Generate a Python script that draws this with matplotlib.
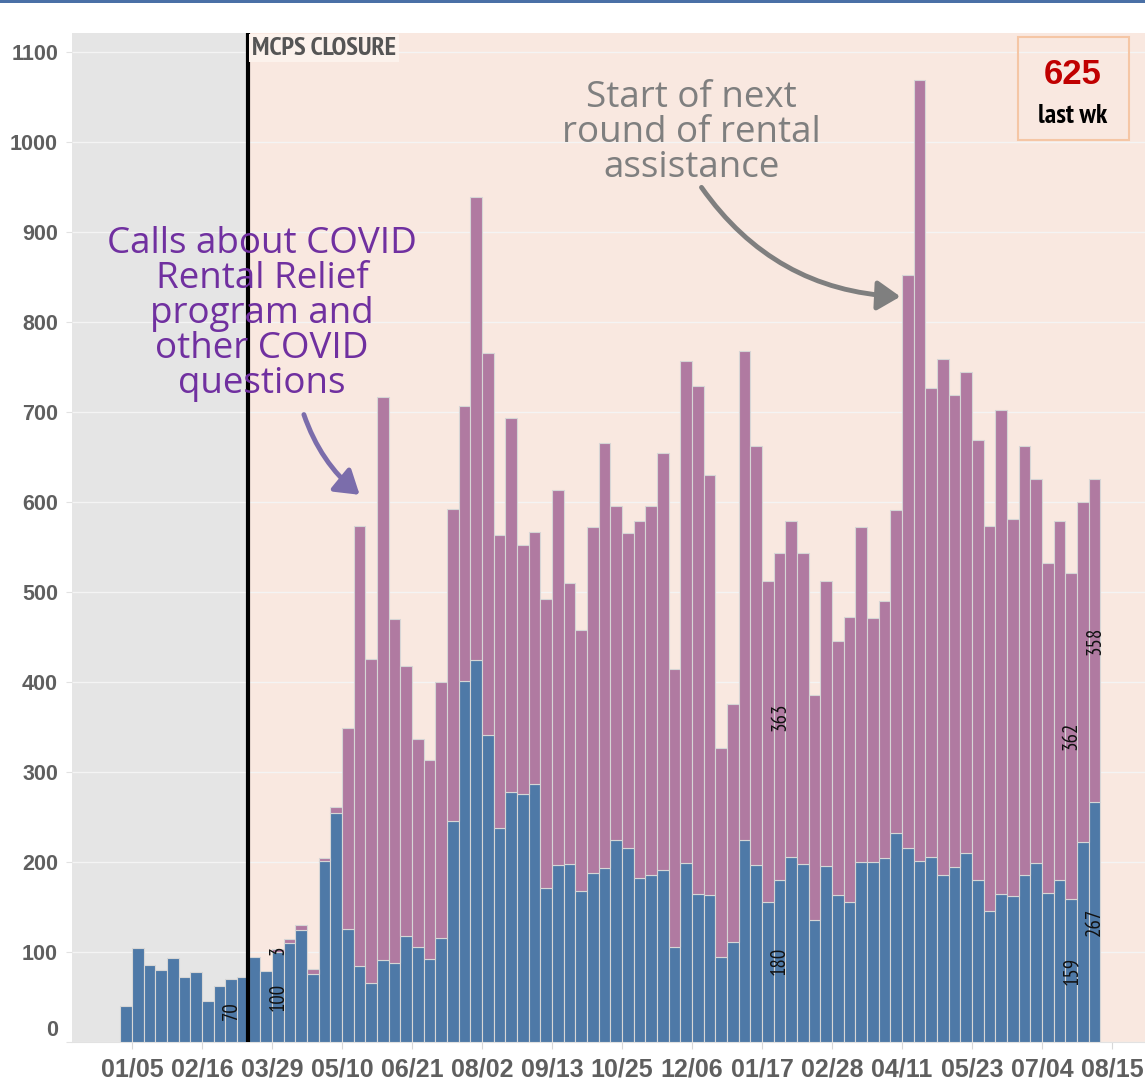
import matplotlib
matplotlib.use('Agg')
import matplotlib.pyplot as plt
import numpy as np
from matplotlib.patches import FancyArrowPatch, Rectangle
import matplotlib.transforms as mtransforms
from matplotlib import font_manager as fm

# ---------------- data ----------------
tick_labels = ['01/05', '02/16', '03/29', '05/10', '06/21', '08/02', '09/13',
               '10/25', '12/06', '01/17', '02/28', '04/11', '05/23', '07/04', '08/15']

other_calls = [40, 104, 86, 80, 93, 72, 78, 46, 62, 70, 72, 94, 79, 100, 110, 124,
               76, 201, 254, 126, 84, 65, 91, 88, 118, 106, 92, 116, 245, 401, 424,
               341, 238, 278, 276, 287, 171, 197, 198, 168, 188, 193, 224, 216, 182,
               185, 191, 105, 199, 164, 163, 94, 111, 224, 197, 155, 180, 205, 198,
               136, 195, 163, 155, 200, 200, 204, 232, 215, 201, 205, 185, 194, 210,
               180, 146, 164, 162, 186, 199, 166, 180, 159, 222, 267]

covid_calls = [0, 0, 0, 0, 0, 0, 0, 0, 0, 0, 0, 0, 0,
               3, 4, 6, 5, 3, 7, 223, 489, 361, 626, 382, 300, 231, 221, 284, 347,
               306, 515, 425, 325, 415, 276, 280, 321, 416, 312, 290, 384, 472, 372,
               350, 397, 411, 463, 309, 558, 565, 467, 233, 264, 544, 465, 357, 363,
               374, 345, 250, 317, 283, 317, 372, 271, 286, 359, 637, 868, 522, 574,
               525, 534, 489, 427, 538, 419, 476, 427, 366, 399, 362, 378, 358]

other_label_weeks = [9, 13, 56, 81, 83]
covid_label_weeks = [13, 56, 81, 83]
closure_week = 10.95
last_week_total = 625

# ---------------- fonts ----------------
_avail = {f.name for f in fm.fontManager.ttflist}


def pick(cands):
    return [c for c in cands if c in _avail] + ['DejaVu Sans']


NARROW = pick(['PT Sans Narrow', 'Liberation Sans Narrow', 'Fira Sans Condensed',
               'IBM Plex Sans Condensed', 'Roboto Condensed', 'Archivo Narrow'])
REG = pick(['Liberation Sans'])
ANN = pick(['Open Sans'])

# ---------------- figure ----------------
W, H = 1145, 1080
fig = plt.figure(figsize=(W / 100, H / 100), dpi=100)
fig.patch.set_facecolor('white')
ax = fig.add_axes([72 / W, 1 - 1042 / H, 1 - 72 / W, (1042 - 33) / H])
ax.set_facecolor('none')

xmin, xmax = -4.14, 87.83
ax.set_xlim(xmin, xmax)
ax.set_ylim(0, 1121)

# backgrounds
ax.axvspan(xmin, closure_week, color='#e5e5e5', zorder=0, lw=0)
ax.axvspan(closure_week, xmax, color='#f9e8e0', zorder=0, lw=0)

x = np.arange(len(other_calls))
blue = np.array(other_calls)
pink = np.array(covid_calls)
ax.bar(x, blue, width=1, align='edge', color='#4e79a7', edgecolor='#d6d6d6',
       linewidth=0.8, zorder=3)
m = pink > 0
ax.bar(x[m], pink[m], bottom=blue[m], width=1, align='edge', color='#b07aa1',
       edgecolor='#d6d6d6', linewidth=0.8, zorder=3)

# closure line
ax.axvline(closure_week, color='black', lw=3, zorder=5)
ax.text(closure_week + 0.35, 1104, 'MCPS CLOSURE', fontsize=19, fontweight='bold',
        family=NARROW, color='#555555',
        va='center', ha='left', zorder=6,
        bbox=dict(boxstyle='square,pad=0.1', fc='#fcf2ec', ec='none'))

# value labels
for i in other_label_weeks:
    ax.text(i + 0.5, blue[i] / 2, str(blue[i]), rotation=90, ha='center', va='center',
            fontsize=15, family=NARROW, color='#111111', zorder=6)
for i in covid_label_weeks:
    ax.text(i + 0.5, blue[i] + pink[i] / 2, str(pink[i]), rotation=90, ha='center',
            va='center', fontsize=15, family=NARROW, color='#111111', zorder=6)

# axes styling
ax.yaxis.grid(True, color='#f4f4f4', lw=1)
ax.set_axisbelow(True)
for s in ['top', 'right', 'left']:
    ax.spines[s].set_visible(False)
ax.spines['bottom'].set_color('#e2e2e2')

ax.set_yticks(np.arange(0, 1101, 100))
ax.set_yticklabels([str(v) for v in range(0, 1101, 100)])
ax.set_xticks(np.arange(1, 86, 6))
ax.set_xticklabels(tick_labels)
ax.tick_params(axis='y', length=4, color='#e2e2e2', pad=6, labelsize=15.5,
               labelcolor='#5f5f5f')
ax.tick_params(axis='x', length=5, color='#d8d8d8', pad=6, labelsize=18,
               labelcolor='#5f5f5f')
for t in ax.get_xticklabels() + ax.get_yticklabels():
    t.set_family(REG)
    t.set_fontweight('bold')
# raise the "0" label like the original
zl = ax.get_yticklabels()[0]
zl.set_transform(zl.get_transform() + mtransforms.ScaledTranslation(0, 14 / 100, fig.dpi_scale_trans))

# last week box
ax.add_patch(Rectangle((76.93, 1002), 86.44 - 76.93, 1117 - 1002, fc='none',
                       ec='#f5c6a5', lw=1.5, zorder=6))
ax.text(81.6, 1075, str(last_week_total), fontsize=25, fontweight='bold',
        family=REG, color='#c00000',
        ha='center', va='center', zorder=7)
ax.text(81.6, 1029, 'last wk', fontsize=20, fontweight='bold',
        family=NARROW, color='black',
        ha='center', va='center', zorder=7)

# annotations
ax.text(12.15, 808.7, 'Calls about COVID\nRental Relief\nprogram and\nother COVID\nquestions',
        fontsize=26.5, family=ANN, color='#7030a0', ha='center', va='center',
        linespacing=0.965, zorder=7)
ax.add_patch(FancyArrowPatch((15.66, 700), (20.7, 606),
                             connectionstyle='arc3,rad=0.15',
                             arrowstyle='-|>,head_length=0.7,head_width=0.45',
                             mutation_scale=20, lw=3.5, color='#7b6dab', zorder=7))

ax.text(48.98, 1009.7, 'Start of next\nround of rental\nassistance',
        fontsize=26.5, family=ANN, color='#7f7f7f', ha='center', va='center',
        linespacing=0.965, zorder=7)
ax.add_patch(FancyArrowPatch((49.68, 952), (67.1, 828),
                             connectionstyle='arc3,rad=0.25',
                             arrowstyle='-|>,head_length=0.7,head_width=0.45',
                             mutation_scale=20, lw=3.5, color='#7f7f7f', zorder=7))

# top border line
fig.add_artist(Rectangle((0, 1 - 3 / H), 1, 3 / H, transform=fig.transFigure,
                         fc='#4a70a6', ec='none'))

fig.savefig('out.png', dpi=100)
